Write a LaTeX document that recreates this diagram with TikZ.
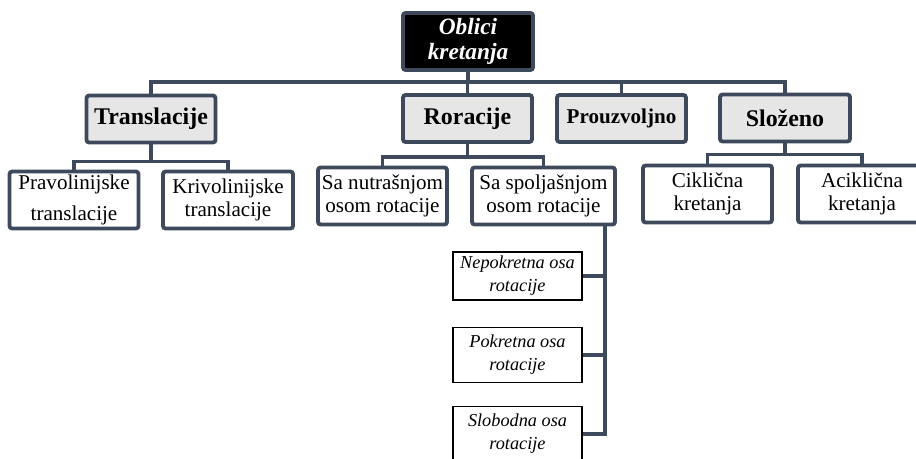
\documentclass[tikz,border=0pt]{standalone}
\usepackage{fontspec}
\setmainfont{Liberation Serif}
\usetikzlibrary{calc}

\definecolor{slate}{HTML}{3E4A5C}
\definecolor{boxgray}{HTML}{E6E6E6}

\tikzset{
	link/.style={draw=slate, line width=2.2pt},
	topbox/.style={draw=slate, line width=2.2pt, fill=black, text=white, rounded corners=1.5pt, inner sep=0pt, align=center, minimum width=130*0.02cm, minimum height=57*0.02cm, font=\fontsize{13.3}{14}\selectfont\bfseries\itshape},
	groupbox/.style={draw=slate, line width=2.2pt, fill=boxgray, rounded corners=1.5pt, inner sep=0pt, align=center, minimum width=129*0.02cm, minimum height=47*0.02cm, font=\fontsize{13.6}{15}\selectfont\bfseries},
	kindbox/.style={draw=slate, line width=2.2pt, fill=white, rounded corners=1.5pt, inner sep=0pt, align=center, minimum width=129*0.02cm, minimum height=57*0.02cm, font=\fontsize{12}{13}\selectfont},
	axisbox/.style={draw=black, line width=0.9pt, fill=white, inner sep=0pt, align=center, minimum width=129*0.02cm, font=\fontsize{10.4}{13}\selectfont\itshape}
}

\begin{document}
\begin{tikzpicture}[x=0.02cm, y=-0.02cm]
	
	\clip (0,0) rectangle (916,458);
	
	% top
	\node[topbox] (oblici) at (468,41.5) {Oblici\\kretanja};
	
	% groups
	\node[groupbox] (trans) at (151,119) {Translacije};
	\node[groupbox] (rot) at (467.5,118.5) {Roracije};
	\node[groupbox, font=\fontsize{12}{14}\selectfont\bfseries] (prou) at (621.5,118.5) {Prouzvoljno};
	\node[groupbox, minimum width=130*0.02cm] (slo) at (785,118) {Složeno};
	
	% kinds
	\node[kindbox, font=\fontsize{12}{18}\selectfont] (prav) at (74,200) {Pravolinijske\\translacije};
	\node[kindbox, minimum width=130*0.02cm] (kriv) at (228,200) {Krivolinijske\\translacije};
	\node[kindbox] (nutr) at (382.5,196) {Sa nutrašnjom\\osom rotacije};
	\node[kindbox, minimum width=143*0.02cm] (spol) at (543.5,196) {Sa spoljašnjom\\osom rotacije};
	\node[kindbox] (cikl) at (707.5,194) {Ciklična\\kretanja};
	\node[kindbox, minimum width=128*0.02cm] (acikl) at (862,194) {Aciklična\\kretanja};
	
	% axes of rotation
	\node[axisbox, minimum height=48*0.02cm] (nepok) at (517.5,276) {Nepokretna osa\\rotacije};
	\node[axisbox, minimum height=55*0.02cm] (pok) at (517.5,355) {Pokretna osa\\rotacije};
	\node[axisbox, minimum height=55*0.02cm] (slob) at (517.5,434) {Slobodna osa\\rotacije};
	
	% connectors level 1
	\coordinate (bus) at (468,82);
	\draw[link] (oblici) -- (bus);
	\foreach \g in {trans,rot,prou,slo}
		\draw[link] (\g.north) |- (bus);
	
	% connectors level 2
	\draw[link] (trans.south) -- ++(0,17) coordinate (tb);
	\draw[link] (prav.north) |- (tb) -| (kriv.north);
	
	\draw[link] (rot.south) -- ++(0,13) coordinate (rb);
	\draw[link] (nutr.north) |- (rb) -| (spol.north);
	
	\draw[link] (slo.south) -- ++(0,11) coordinate (sb);
	\draw[link] (cikl.north) |- (sb) -| (acikl.north);
	
	% connectors level 3
	\coordinate (trunk) at ($(spol.south east)+(-12,0)$);
	\draw[link] (trunk) |- (slob.east);
	\draw[link] (nepok.east) -- (nepok.east -| trunk);
	\draw[link] (pok.east) -- (pok.east -| trunk);
	
\end{tikzpicture}
\end{document}
